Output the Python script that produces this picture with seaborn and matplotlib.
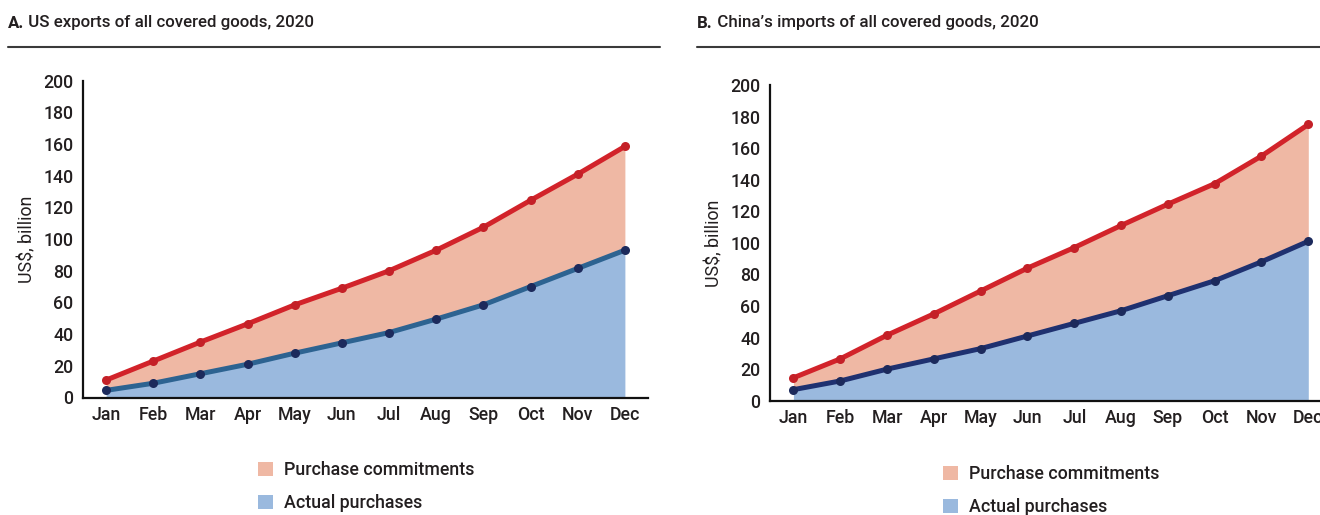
import matplotlib
matplotlib.use("Agg")
import matplotlib.pyplot as plt
import seaborn as sns
import pandas as pd
import numpy as np
from matplotlib.patches import Patch
from matplotlib.lines import Line2D

months = ["Jan", "Feb", "Mar", "Apr", "May", "Jun", "Jul", "Aug", "Sep", "Oct", "Nov", "Dec"]
us_commit = [11, 23, 35, 46.5, 58.5, 69, 80, 93, 107.5, 124.5, 141, 158.5]
us_actual = [4.5, 9, 15, 21, 28, 34.5, 41, 49.5, 58.5, 70, 81.5, 93]
cn_commit = [14.5, 26.5, 41.5, 55, 69.5, 84, 97, 111, 124.5, 137.5, 155, 175]
cn_actual = [7, 12.5, 20, 26.5, 33, 41, 49, 57, 66.5, 76, 88, 101]
yticks = [0, 20, 40, 60, 80, 100, 120, 140, 160, 180, 200]
titles_bold = ["A.", "B."]
titles = ["US exports of all covered goods, 2020", "China\u2019s imports of all covered goods, 2020"]
legend_labels = ["Purchase commitments", "Actual purchases"]
ylabel = "US$, billion"

RED = "#d2232a"
RED_DOT = "#c42027"
SALMON = "#efb8a4"
LBLUE = "#9ab9de"
BLUE_LINE = ["#2d6391", "#1f3170"]
BLUE_DOT = "#1c2a5c"
TXT = "#231f20"

sns.set_style("white")
plt.rcParams["font.family"] = ["Roboto", "DejaVu Sans"]
plt.rcParams["font.weight"] = 500

W, H = 1320, 515
fig = plt.figure(figsize=(W / 100, H / 100), dpi=100)

def fx(px):
    return px / W

def fy(py):
    return 1 - py / H

specs = [
    dict(l=83, r=648, t=80.7, b=397.5, xlim=(-0.49, 11.49), commit=us_commit, actual=us_actual,
         title_x=8, rule=(8, 660), leg=(258, 461)),
    dict(l=770, r=1320, t=85, b=400.7, xlim=(-0.5, 11.25), commit=cn_commit, actual=cn_actual,
         title_x=697, rule=(697, 1320), leg=(943, 465)),
]

FS = 12.8
TFS = 12.2
for i, s in enumerate(specs):
    ax = fig.add_axes([fx(s["l"]), fy(s["b"]), fx(s["r"] - s["l"]), (s["b"] - s["t"]) / H])
    x = np.arange(len(months))
    df = pd.DataFrame({"month": x, "commit": s["commit"], "actual": s["actual"]})
    ax.fill_between(x, 0, df["actual"], color=LBLUE, lw=0, zorder=1)
    ax.fill_between(x, df["actual"], df["commit"], color=SALMON, lw=0, zorder=1)
    sns.lineplot(data=df, x="month", y="commit", ax=ax, color=RED, lw=3.6, zorder=3,
                 marker="o", markersize=6.5, markerfacecolor=RED_DOT, markeredgewidth=0)
    sns.lineplot(data=df, x="month", y="actual", ax=ax, color=BLUE_LINE[i], lw=3.6, zorder=3,
                 marker="o", markersize=6.5, markerfacecolor=BLUE_DOT, markeredgewidth=0)
    ax.set_xlim(*s["xlim"])
    ax.set_ylim(0, 200)
    ax.set_xticks(x)
    ax.set_xticklabels(months)
    ax.set_yticks(yticks)
    ax.set_xlabel("")
    ax.set_ylabel(ylabel, fontsize=FS, color=TXT, labelpad=5)
    ax.tick_params(axis="both", length=0, labelsize=FS, labelcolor=TXT)
    ax.tick_params(axis="x", pad=6)
    ax.tick_params(axis="y", pad=7)
    for side in ["top", "right"]:
        ax.spines[side].set_visible(False)
    for side in ["left", "bottom"]:
        ax.spines[side].set_color("#111111")
        ax.spines[side].set_linewidth(1.6)
    ax.patch.set_alpha(0)

    t1 = fig.text(fx(s["title_x"]), fy(23), titles_bold[i], fontsize=TFS, fontweight="bold",
                  color=TXT, va="center", ha="left")
    ax.annotate(" " + titles[i], xy=(1, 0.5), xycoords=t1, va="center", ha="left",
                fontsize=TFS, color=TXT, annotation_clip=False)
    fig.add_artist(Line2D([fx(s["rule"][0]), fx(s["rule"][1])], [fy(47), fy(47)],
                          color="#3a3a3a", lw=1.5))

    handles = [Patch(facecolor=SALMON, edgecolor="none", label=legend_labels[0]),
               Patch(facecolor=LBLUE, edgecolor="none", label=legend_labels[1])]
    leg = ax.legend(handles=handles, loc="upper left",
                    bbox_to_anchor=(fx(s["leg"][0]), fy(s["leg"][1])),
                    bbox_transform=fig.transFigure, frameon=False, fontsize=FS,
                    handlelength=0.85, handleheight=0.85, handletextpad=0.6,
                    labelspacing=0.85, borderpad=0, borderaxespad=0)
    for t in leg.get_texts():
        t.set_color(TXT)

fig.savefig("out.png", dpi=100)
